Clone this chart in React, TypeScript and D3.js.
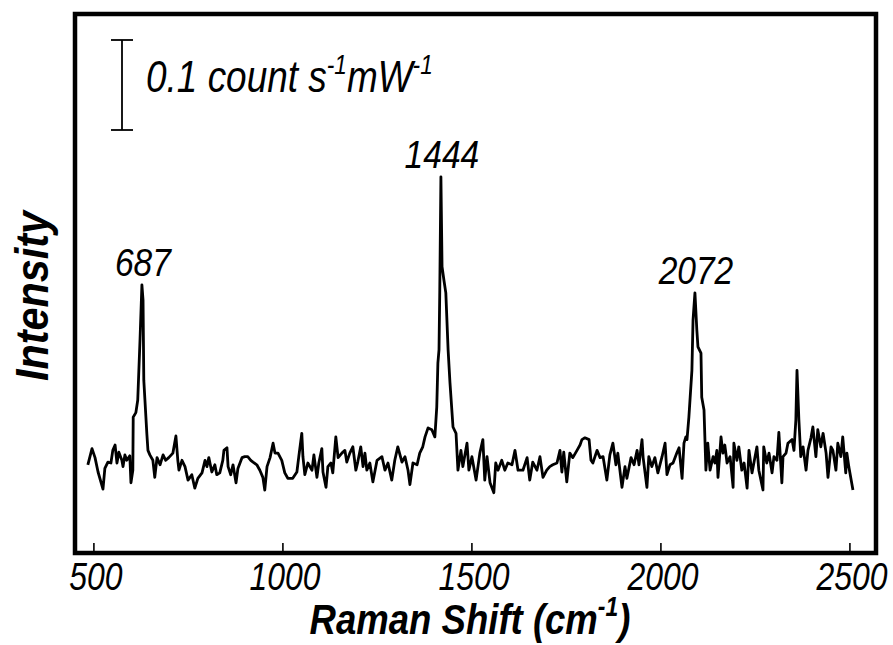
import React from "react";
import * as d3 from "d3";

// Raman spectrum (shift in cm^-1, intensity in 0.001 count s^-1 mW^-1)
const shift = [
  484, 495, 503, 511, 524, 529, 537, 545, 550, 556, 561, 566, 574, 577, 582, 587, 595, 598, 603, 604,
  611, 616, 622, 627, 630, 632, 635, 640, 643, 648, 656, 661, 667, 675, 683, 690, 698, 709, 717, 722,
  725, 733, 741, 749, 759, 767, 775, 786, 794, 799, 804, 812, 820, 825, 833, 841, 844, 852, 855, 862,
  868, 876, 881, 892, 899, 907, 915, 921, 931, 939, 947, 952, 958, 966, 974, 979, 987, 997, 1005, 1013,
  1026, 1037, 1042, 1050, 1053, 1058, 1066, 1077, 1082, 1090, 1095, 1103, 1106, 1114, 1119, 1127, 1132, 1140, 1146, 1156,
  1164, 1169, 1177, 1185, 1193, 1198, 1206, 1212, 1217, 1222, 1230, 1238, 1249, 1262, 1270, 1278, 1288, 1296, 1304, 1315,
  1323, 1331, 1336, 1344, 1355, 1362, 1370, 1376, 1384, 1394, 1402, 1407, 1410, 1413, 1415, 1418, 1421, 1426, 1431, 1437,
  1442, 1450, 1458, 1463, 1471, 1476, 1487, 1492, 1500, 1511, 1521, 1529, 1534, 1540, 1548, 1558, 1563, 1569, 1579, 1587,
  1595, 1606, 1614, 1622, 1635, 1646, 1653, 1661, 1672, 1680, 1688, 1698, 1706, 1714, 1725, 1733, 1738, 1743, 1751, 1759,
  1767, 1778, 1786, 1791, 1799, 1810, 1815, 1820, 1831, 1839, 1847, 1857, 1865, 1873, 1881, 1886, 1897, 1905, 1910, 1921,
  1929, 1937, 1942, 1950, 1953, 1963, 1968, 1976, 1984, 1992, 2003, 2011, 2016, 2024, 2032, 2042, 2048, 2056, 2061, 2066,
  2069, 2074, 2082, 2085, 2090, 2095, 2098, 2106, 2108, 2114, 2119, 2124, 2130, 2138, 2143, 2148, 2151, 2159, 2164, 2169,
  2175, 2183, 2191, 2193, 2201, 2206, 2214, 2220, 2228, 2233, 2241, 2249, 2254, 2259, 2270, 2272, 2280, 2286, 2294, 2299,
  2307, 2312, 2320, 2323, 2331, 2336, 2347, 2352, 2357, 2360, 2365, 2370, 2376, 2384, 2389, 2397, 2402, 2410, 2415, 2423,
  2429, 2437, 2442, 2450, 2455, 2463, 2468, 2476, 2481, 2489, 2492, 2497, 2508,
];
const intensity = [
  98, 116, 106, 90, 71, 94, 101, 100, 114, 120, 100, 112, 103, 96, 109, 103, 108, 78, 92, 151,
  156, 170, 237, 298, 281, 192, 170, 133, 114, 109, 103, 84, 106, 98, 109, 103, 106, 111, 130, 103,
  92, 103, 96, 81, 87, 72, 83, 89, 103, 96, 106, 90, 98, 87, 89, 103, 114, 117, 96, 87,
  98, 78, 94, 106, 107, 107, 103, 101, 98, 92, 84, 70, 96, 106, 122, 111, 111, 103, 89, 83,
  83, 90, 107, 133, 107, 87, 100, 92, 109, 84, 100, 116, 90, 73, 96, 100, 89, 129, 106, 111,
  114, 101, 111, 118, 92, 101, 118, 96, 111, 92, 100, 79, 103, 107, 92, 100, 81, 103, 118, 101,
  107, 92, 76, 100, 98, 111, 118, 129, 139, 137, 129, 162, 211, 226, 292, 418, 318, 303, 289, 226,
  189, 140, 133, 92, 114, 96, 122, 92, 107, 81, 111, 126, 81, 107, 78, 67, 100, 92, 103, 92,
  100, 98, 114, 92, 92, 106, 81, 101, 92, 107, 84, 92, 96, 98, 100, 114, 90, 112, 79, 111,
  106, 114, 120, 126, 128, 126, 103, 100, 114, 106, 107, 81, 109, 122, 98, 111, 73, 96, 83, 106,
  98, 114, 98, 126, 106, 73, 107, 96, 106, 89, 107, 122, 87, 98, 100, 111, 117, 83, 122, 129,
  126, 151, 203, 259, 289, 248, 229, 222, 173, 159, 92, 122, 92, 107, 100, 114, 84, 129, 111, 120,
  100, 107, 73, 122, 103, 118, 92, 100, 72, 114, 89, 107, 118, 92, 70, 118, 100, 111, 89, 107,
  103, 134, 78, 107, 111, 122, 126, 114, 148, 203, 148, 107, 118, 92, 114, 128, 140, 107, 137, 118,
  133, 111, 84, 118, 114, 92, 122, 107, 129, 89, 111, 96, 70,
];

const xTicks = [500, 1000, 1500, 2000, 2500];
const peakLabels = ["687", "1444", "2072"];
const peakShifts = [627, 1418, 2090];
const scaleBarRange = [470, 570];

const W = 893;
const H = 645;
const FONT = "'Liberation Sans', Arial, Helvetica, sans-serif";
const SX = 0.84;

export default function App() {
  const left = 75, right = 876, top = 14, bottom = 553;
  const x = d3.scaleLinear().domain([450, 2569]).range([left, right]);
  const y = d3.scaleLinear().domain([0, 600]).range([bottom, 13]);
  const pts = shift.map((s, i) => [s, intensity[i]] as [number, number]);
  const line = d3
    .line<[number, number]>()
    .x((d) => x(d[0]))
    .y((d) => y(d[1]));

  const peakY = (s: number) => {
    let best = 0;
    pts.forEach(([a, b]) => {
      if (Math.abs(a - s) < 15 && b > best) best = b;
    });
    return best;
  };

  const barX = 122;
  return (
    <svg
      width={W}
      height={H}
      style={{ position: "absolute", left: 0, top: 0, background: "#fff" }}
      fontFamily={FONT}
    >
      <rect x={0} y={0} width={W} height={H} fill="#fff" />
      <path d={line(pts) || ""} fill="none" stroke="#000" strokeWidth={2.8} strokeLinejoin="round" />
      <rect x={left} y={top} width={right - left} height={bottom - top} fill="none" stroke="#000" strokeWidth={4.5} />
      {xTicks.map((t) => (
        <g key={t}>
          <line x1={x(t)} x2={x(t)} y1={bottom} y2={bottom - 10} stroke="#000" strokeWidth={1.6} />
          <text
            transform={`translate(${x(t) + 2},${590}) scale(${SX},1)`}
            textAnchor="middle"
            fontSize={38}
            fontStyle="italic"
          >
            {t}
          </text>
        </g>
      ))}
      <text
        transform={`translate(${470},${634}) scale(0.85,1)`}
        textAnchor="middle"
        fontSize={43}
        fontStyle="italic"
        fontWeight="bold"
      >
        Raman Shift (cm
        <tspan fontSize={27} dy={-18}>-1</tspan>
        <tspan dy={18}>)</tspan>
      </text>
      <text
        transform={`translate(${48},${296}) rotate(-90) scale(0.9,1)`}
        textAnchor="middle"
        fontSize={46}
        fontStyle="italic"
        fontWeight="bold"
      >
        Intensity
      </text>
      {peakLabels.map((lab, i) => (
        <text
          key={lab}
          transform={`translate(${x(peakShifts[i]) + 1},${y(peakY(peakShifts[i])) - 9}) scale(0.86,1)`}
          textAnchor="middle"
          fontSize={39}
          fontStyle="italic"
        >
          {lab}
        </text>
      ))}
      <line x1={barX} x2={barX} y1={y(scaleBarRange[0])} y2={y(scaleBarRange[1])} stroke="#000" strokeWidth={1.8} />
      <line x1={barX - 11} x2={barX + 11} y1={y(scaleBarRange[0])} y2={y(scaleBarRange[0])} stroke="#000" strokeWidth={1.8} />
      <line x1={barX - 11} x2={barX + 11} y1={y(scaleBarRange[1])} y2={y(scaleBarRange[1])} stroke="#000" strokeWidth={1.8} />
      <text
        transform={`translate(${146},${92}) scale(${SX},1)`}
        fontSize={44}
        fontStyle="italic"
      >
        0.1 count s
        <tspan fontSize={27} dy={-18}>-1</tspan>
        <tspan dy={18}>mW</tspan>
        <tspan fontSize={27} dy={-18}>-1</tspan>
      </text>
    </svg>
  );
}
